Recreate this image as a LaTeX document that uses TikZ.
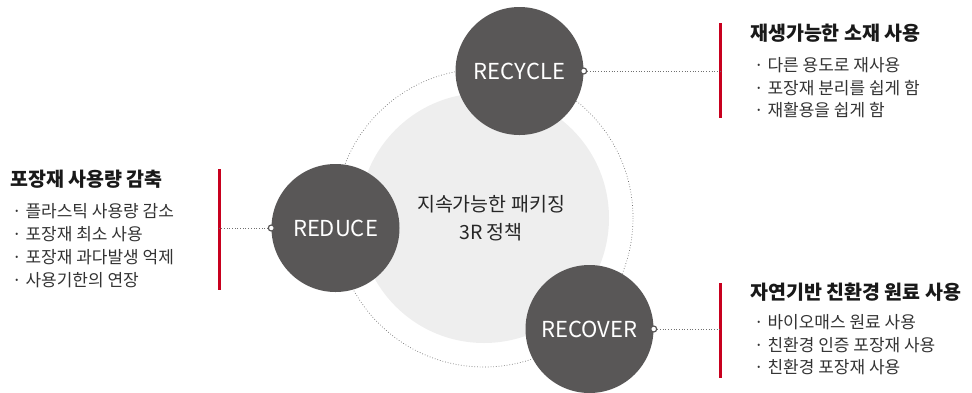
\documentclass[tikz,border=0pt]{standalone}
\usepackage{fontspec}
\setmainfont{Noto Sans CJK KR}
\usetikzlibrary{positioning}

\definecolor{darkdisc}{HTML}{595757}
\definecolor{lightdisc}{HTML}{EEEEEE}
\definecolor{barred}{HTML}{C8001E}
\definecolor{dotgray}{HTML}{707070}

\tikzset{
  disc/.style={circle, fill=darkdisc, minimum size=128pt, inner sep=0pt,
               text=white, font=\fontsize{22}{26}\selectfont},
  plug/.style={circle, draw=darkdisc, fill=white, line width=1.2pt,
               minimum size=6pt, inner sep=0pt},
  link/.style={dotgray, dotted, line width=0.7pt},
  redbar/.style={barred, line width=3pt},
  headline/.style={anchor=west, inner sep=0pt, text=black!90,
                   font=\fontsize{19.5}{23}\selectfont\bfseries},
  entry/.style={anchor=west, inner sep=0pt, text=black!80,
                font=\fontsize{17}{20}\selectfont},
}

\begin{document}
\begin{tikzpicture}[x=1pt,y=-1pt]

\useasboundingbox (0,0) rectangle (972,392);

%\draw[help lines,step=20]
%     (0,0) grid (972,392);

\draw[link] (484,218) circle[radius=149]; % outer ring
\node[circle, fill=lightdisc, minimum size=250pt, inner sep=0pt] (core) at (484,218) {};
\node[align=center, text=black!85, font=\fontsize{19.5}{28}\selectfont] (policy) at (491,218)
     {지속가능한 패키징\\3R 정책};

\node[disc] (recycle) at (519.5,71) {RECYCLE};
\node[disc] (reduce)  at (335.5,228) {REDUCE};
\node[disc] (recover) at (589.5,329) {RECOVER};

\node[plug] (recycleplug) at (recycle.east) {};
\node[plug] (reduceplug)  at (reduce.west) {};
\node[plug] (recoverplug) at (recover.east) {};

% red bars
\draw[redbar] (720,23) -- (720,118);
\draw[redbar] (219,169) -- (219,290);
\draw[redbar] (720,283) -- (720,378);

\coordinate (recyclebar) at (720,71);
\coordinate (reducebar)  at (219,228);
\coordinate (recoverbar) at (720,329);

\draw[link] (recycleplug) -- (recyclebar);
\draw[link] (reduceplug) -- (reducebar);
\draw[link] (recoverplug) -- (recoverbar);

% recycle
\node[headline] (recyclehead) at (750,33) {재생가능한 소재 사용};
\node[entry] (recyclea) at (754,65)  {· 다른 용도로 재사용};
\node[entry] (recycleb) at (754,88)  {· 포장재 분리를 쉽게 함};
\node[entry] (recyclec) at (754,110) {· 재활용을 쉽게 함};

% reduce
\node[headline] (reducehead) at (10,179) {포장재 사용량 감축};
\node[entry] (reducea) at (12,211) {· 플라스틱 사용량 감소};
\node[entry] (reduceb) at (12,234) {· 포장재 최소 사용};
\node[entry] (reducec) at (12,257) {· 포장재 과다발생 억제};
\node[entry] (reduced) at (12,280) {· 사용기한의 연장};

% recover
\node[headline] (recoverhead) at (750,292) {자연기반 친환경 원료 사용};
\node[entry] (recovera) at (754,322) {· 바이오매스 원료 사용};
\node[entry] (recoverb) at (754,345) {· 친환경 인증 포장재 사용};
\node[entry] (recoverc) at (754,367) {· 친환경 포장재 사용};

\end{tikzpicture}
\end{document}
